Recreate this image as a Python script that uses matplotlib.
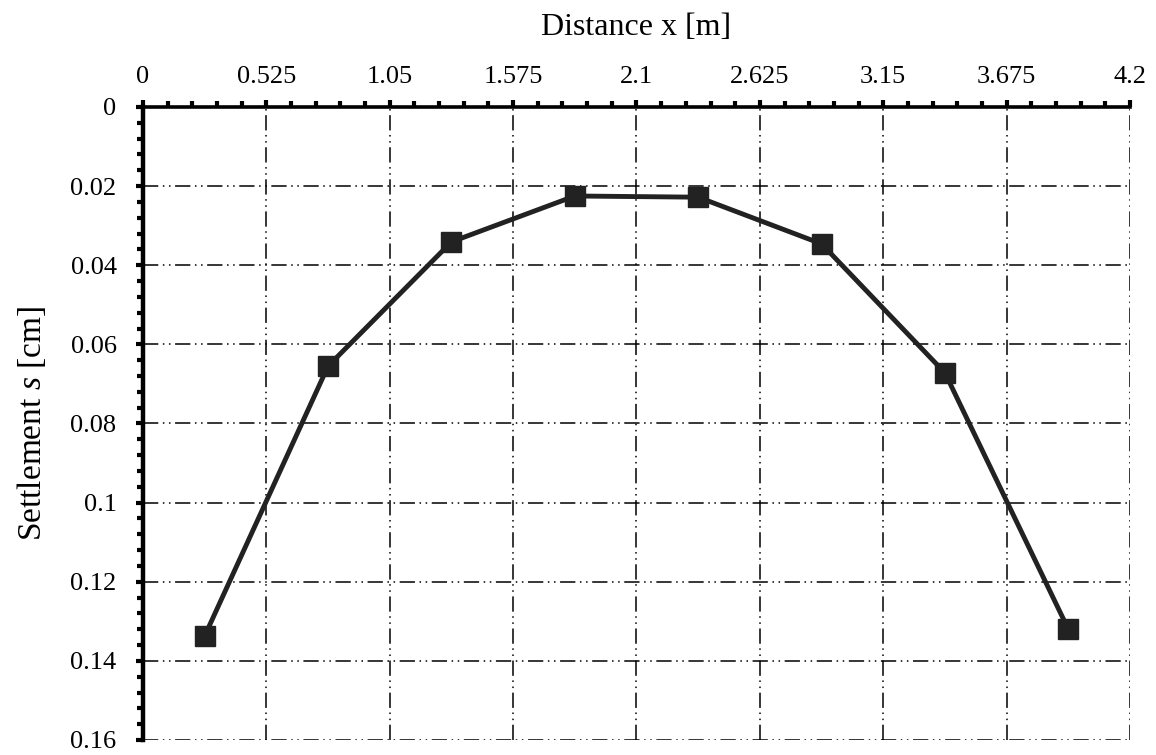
import matplotlib.pyplot as plt
from matplotlib.ticker import MultipleLocator, FixedLocator

# data
distance = [0.2625, 0.7875, 1.3125, 1.8375, 2.3625, 2.8875, 3.4125, 3.9375]
settlement = [0.1337, 0.0655, 0.0341, 0.0225, 0.0228, 0.0346, 0.0672, 0.1320]
x_ticks = [0, 0.525, 1.05, 1.575, 2.1, 2.625, 3.15, 3.675, 4.2]
x_tick_labels = ["0", "0.525", "1.05", "1.575", "2.1", "2.625", "3.15", "3.675", "4.2"]
y_ticks = [0, 0.02, 0.04, 0.06, 0.08, 0.1, 0.12, 0.14, 0.16]
y_tick_labels = ["0", "0.02", "0.04", "0.06", "0.08", "0.1", "0.12", "0.14", "0.16"]

plt.rcParams['font.family'] = ['Liberation Serif', 'DejaVu Serif']
plt.rcParams['mathtext.fontset'] = 'custom'
plt.rcParams['mathtext.it'] = 'Liberation Serif:italic'
plt.rcParams['mathtext.rm'] = 'Liberation Serif'

fig = plt.figure(figsize=(11.56, 7.55), dpi=100)
ax = fig.add_axes([0.1237, 0.0199, 0.9775 - 0.1237, 0.8583 - 0.0199])

grid_style = (0, (10, 3, 1, 3, 1, 3))
ax.grid(True, which='major', color='black', linewidth=1.1, linestyle=grid_style)

ax.plot(distance, settlement, color='#222222', linewidth=3.5, marker='s',
        markersize=14, markerfacecolor='#222222', markeredgecolor='#222222',
        zorder=5, clip_on=False)

ax.set_xlim(0, 4.2)
ax.set_ylim(0.16, 0)

ax.xaxis.set_ticks_position('top')
ax.xaxis.set_label_position('top')
ax.xaxis.set_major_locator(FixedLocator(x_ticks))
ax.set_xticklabels(x_tick_labels)
ax.xaxis.set_minor_locator(MultipleLocator(0.105))
ax.yaxis.set_major_locator(FixedLocator(y_ticks))
ax.set_yticklabels(y_tick_labels)
ax.yaxis.set_minor_locator(MultipleLocator(0.004))

ax.tick_params(which='both', direction='out', width=3, color='black', labelsize=19)
ax.tick_params(which='major', length=5, pad=9)
ax.tick_params(which='minor', length=4)
ax.tick_params(axis='y', which='major', pad=14)

for side in ['right', 'bottom']:
    ax.spines[side].set_visible(False)
ax.spines['left'].set_linewidth(3.2)
ax.spines['top'].set_linewidth(2.6)

ax.set_xlabel('Distance x [m]', fontsize=23, labelpad=22)
ax.set_ylabel('Settlement $s$ [cm]', fontsize=24, labelpad=16)

fig.savefig('out.png', dpi=100)
